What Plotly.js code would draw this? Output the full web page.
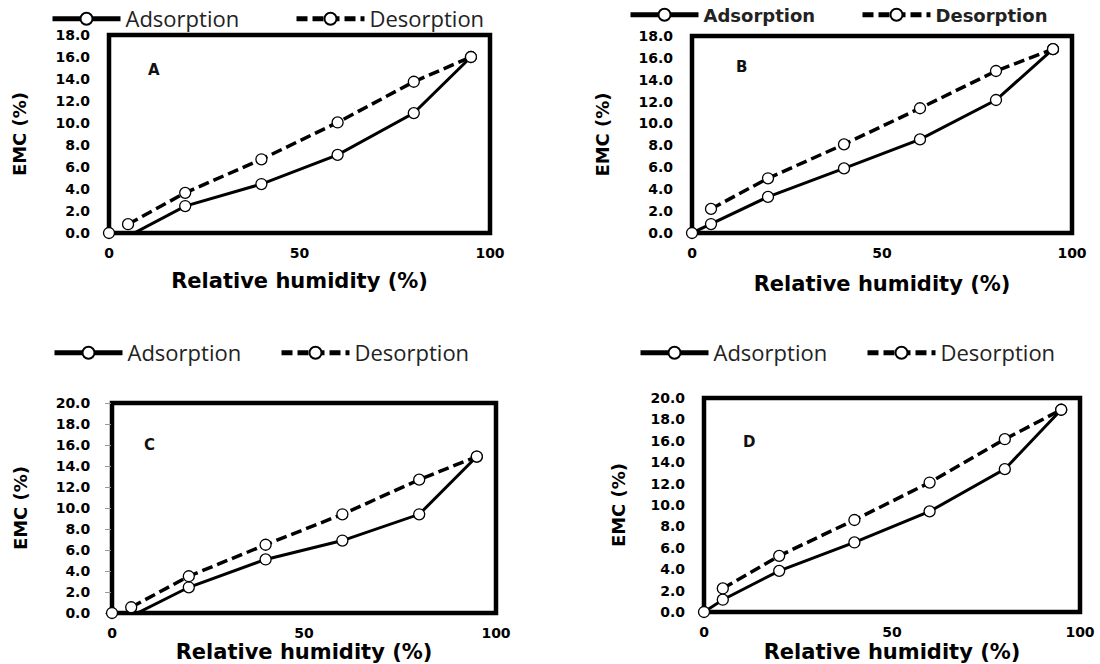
<!DOCTYPE html>
<html>
<head>
<meta charset="utf-8">
<script src="https://cdn.plot.ly/plotly-3.0.1.min.js"></script>
<style>
html,body{margin:0;padding:0;background:#fff;}
#chart{width:1100px;height:664px;}
</style>
</head>
<body>
<div id="chart"></div>
<script>
// ---------------- data ----------------
const rhAds = [0, 5, 20, 40, 60, 80, 95];
const rhDes = [5, 20, 40, 60, 80, 95];

const adsA = [0, -0.3, 2.45, 4.45, 7.1, 10.9, 16.0];
const desA = [0.8, 3.65, 6.7, 10.05, 13.75, 16.0];

const adsB = [0, 0.82, 3.3, 5.9, 8.55, 12.15, 16.8];
const desB = [2.2, 5.0, 8.1, 11.4, 14.8, 16.8];

const adsC = [0, -0.3, 2.45, 5.1, 6.9, 9.4, 14.9];
const desC = [0.55, 3.5, 6.5, 9.4, 12.7, 14.9];

const adsD = [0, 1.15, 3.85, 6.5, 9.4, 13.35, 18.9];
const desD = [2.2, 5.25, 8.6, 12.1, 16.15, 18.9];

const panelLabels = ['A', 'B', 'C', 'D'];
const seriesNames = ['Adsorption', 'Desorption'];
const xTitle = 'Relative humidity (%)';
const yTitle = 'EMC (%)';
const xTickVals = [0, 50, 100];
const yMaxes = [18, 18, 20, 20];

// ---------------- layout geometry (pixels) ----------------
const W = 1100, H = 664;
const panels = [
  {ads: adsA, des: desA, box: [109, 490, 35, 233], leg: [47.5, 19], entry: 161, lab: [153.5, 70], legBold: false, ticks: false, xts: 13, yts: 24},
  {ads: adsB, des: desB, box: [692, 1072, 36, 233], leg: [625.5, 15], entry: 149, lab: [741, 67], legBold: true, ticks: false, xts: 16, yts: 24},
  {ads: adsC, des: desC, box: [112, 496, 403, 613], leg: [49.5, 353], entry: 144, lab: [149, 445], legBold: false, ticks: true, xts: 0, yts: 23},
  {ads: adsD, des: desD, box: [704, 1080, 398, 612], leg: [635.5, 353], entry: 144, lab: [749, 442], legBold: false, ticks: false, xts: 0, yts: 20}
];

const boldFont = 'DejaVu Sans';
const traces = [];
const layout = {
  width: W, height: H,
  margin: {l: 0, r: 0, t: 0, b: 0, autoexpand: false},
  paper_bgcolor: '#fff', plot_bgcolor: '#fff',
  showlegend: true,
  shapes: [], annotations: []
};

panels.forEach((p, i) => {
  const n = i === 0 ? '' : String(i + 1);
  const xa = 'x' + n, ya = 'y' + n;
  const lg = 'legend' + n;
  const [x0, x1, yTop, yBot] = p.box;

  traces.push({
    type: 'scatter', mode: 'lines+markers',
    x: rhAds, y: p.ads, xaxis: xa, yaxis: ya, legend: lg,
    name: seriesNames[0], cliponaxis: false,
    line: {color: '#000', width: 3},
    marker: {symbol: 'circle', color: '#fff', size: 11, line: {color: '#000', width: 1.3}},
    hoverinfo: 'x+y'
  });
  traces.push({
    type: 'scatter', mode: 'lines+markers',
    x: rhDes, y: p.des, xaxis: xa, yaxis: ya, legend: lg,
    name: seriesNames[1], cliponaxis: false,
    line: {color: '#000', width: 3.5, dash: '11px,5px'},
    marker: {symbol: 'circle', color: '#fff', size: 11, line: {color: '#000', width: 1.3}},
    hoverinfo: 'x+y'
  });

  const tickFont = {family: boldFont, size: 14, color: '#000', weight: 'bold'};
  layout['xaxis' + n] = {
    domain: [x0 / W, x1 / W], anchor: ya,
    range: [0, 100], tickvals: xTickVals, ticktext: xTickVals.map(String),
    showgrid: false, zeroline: false, showline: false, ticks: '',
    tickfont: tickFont, ticklabelstandoff: 10, layer: 'below traces',
    title: {text: xTitle, font: {family: boldFont, size: 21, color: '#000', weight: 'bold'}, standoff: p.xts}
  };
  layout['yaxis' + n] = {
    domain: [1 - yBot / H, 1 - yTop / H], anchor: xa,
    range: [0, yMaxes[i]], dtick: 2, tick0: 0, tickformat: '.1f',
    showgrid: false, zeroline: false, showline: false,
    ticks: p.ticks ? 'outside' : '', ticklen: 6, tickcolor: '#999', tickwidth: 1,
    tickfont: tickFont, ticklabelstandoff: p.ticks ? 12 : 18, layer: 'below traces',
    title: {text: yTitle, font: {family: boldFont, size: 18, color: '#000', weight: 'bold'}, standoff: p.yts}
  };
  layout.shapes.push({
    type: 'rect', xref: xa + ' domain', yref: ya + ' domain',
    x0: 0, x1: 1, y0: 0, y1: 1, layer: 'below',
    line: {color: '#000', width: 4.5}
  });
  layout.annotations.push({
    xref: xa + ' domain', yref: ya + ' domain',
    x: (p.lab[0] - x0) / (x1 - x0), y: (yBot - p.lab[1]) / (yBot - yTop),
    text: panelLabels[i], showarrow: false, xanchor: 'center', yanchor: 'middle',
    font: {family: boldFont, size: 15, color: '#111', weight: 'bold'}
  });
  layout[lg] = {
    orientation: 'h', x: p.leg[0] / W, y: 1 - p.leg[1] / H,
    xanchor: 'left', yanchor: 'middle',
    itemwidth: 68, entrywidth: p.entry, entrywidthmode: 'pixels',
    itemsizing: 'constant', bgcolor: 'rgba(0,0,0,0)', borderwidth: 0,
    font: p.legBold
      ? {family: boldFont, size: 18, color: '#222', weight: 'bold'}
      : {family: 'Open Sans', size: 22, color: '#222'}
  };
});

Plotly.newPlot('chart', traces, layout, {displayModeBar: false, staticPlot: true});
</script>
</body>
</html>
